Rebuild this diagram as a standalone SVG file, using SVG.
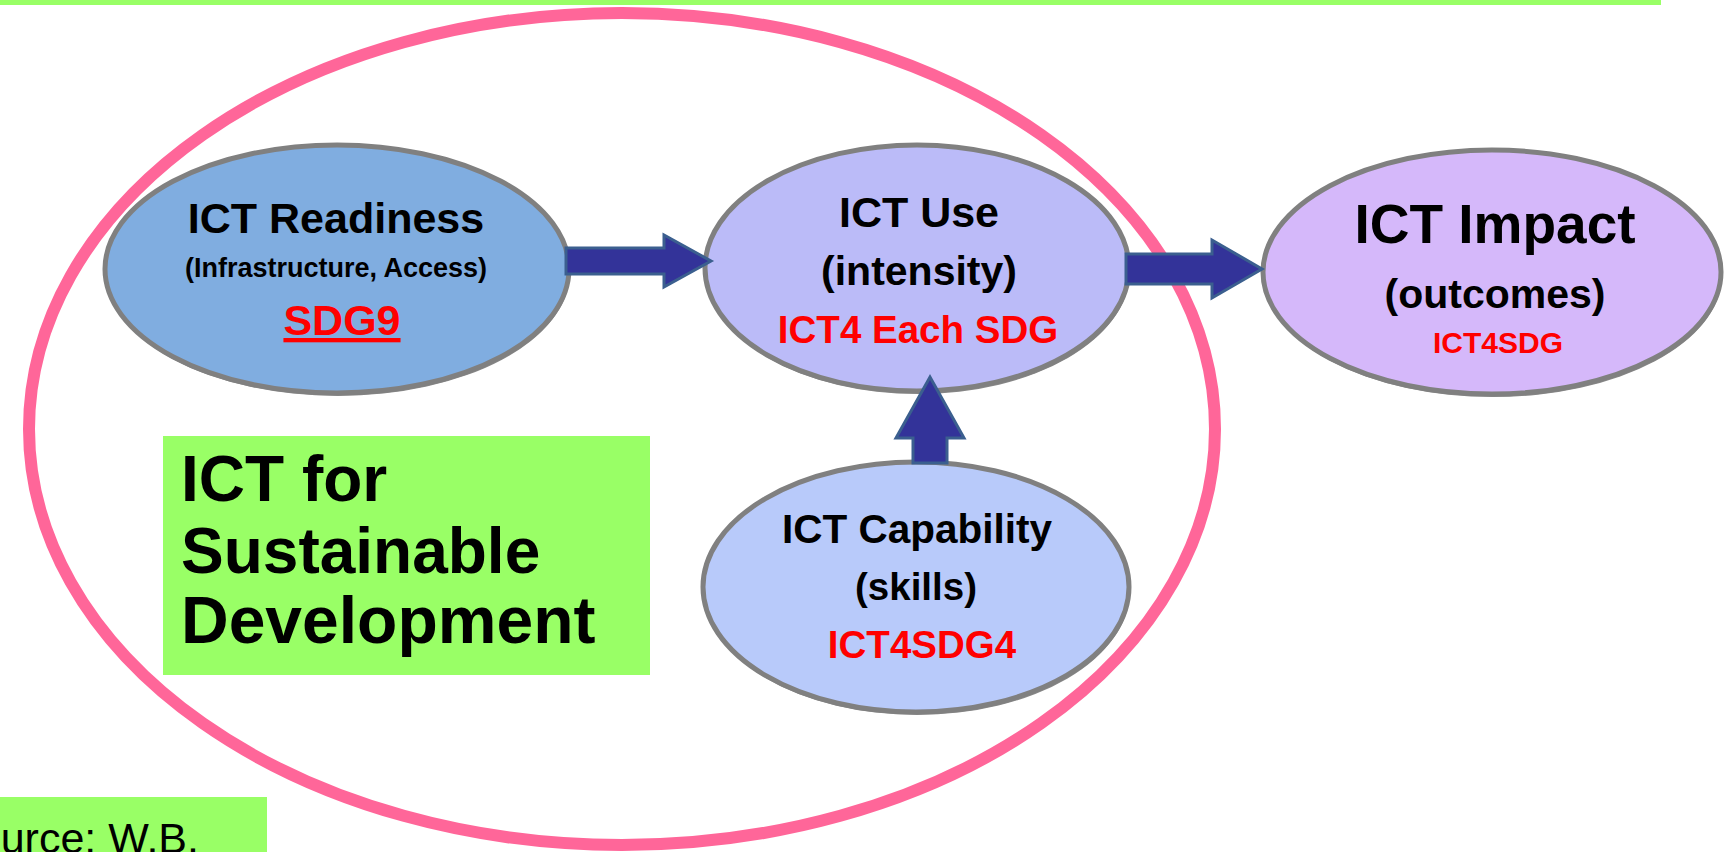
<svg xmlns="http://www.w3.org/2000/svg" width="1724" height="852" viewBox="0 0 1724 852">
<style>
.t{font-family:"Liberation Sans",Arial,sans-serif;font-weight:bold;fill:#000;text-anchor:middle}
.r{fill:#FF0000}
.node{stroke:#808080;stroke-width:5}
.shadow{fill:#8a8a8a}
.arrow{fill:#333399;stroke:#3B5F8F;stroke-width:3;stroke-linejoin:miter}
</style>
<rect x="0" y="0" width="1661" height="5" fill="#99FF66"/>
<ellipse id="scope" cx="622" cy="429" rx="593" ry="416" fill="none" stroke="#FF6699" stroke-width="12"/>
<g id="readiness">
<ellipse class="shadow" cx="338" cy="272" rx="232" ry="124"/>
<ellipse class="node" cx="337" cy="269" rx="232" ry="124" fill="#80ADE0"/>
<text class="t" x="336" y="233" font-size="43">ICT Readiness</text>
<text class="t" x="336" y="277" font-size="27">(Infrastructure, Access)</text>
<text class="t r" x="342" y="335" font-size="43" text-decoration="underline">SDG9</text>
</g>
<g id="use">
<ellipse class="shadow" cx="918" cy="271" rx="212" ry="123"/>
<ellipse class="node" cx="917" cy="268" rx="212" ry="123" fill="#BBBBF8"/>
<text class="t" x="919" y="227" font-size="43">ICT Use</text>
<text class="t" x="919" y="285" font-size="41">(intensity)</text>
<text class="t r" x="918" y="343" font-size="38.5">ICT4 Each SDG</text>
</g>
<g id="impact">
<ellipse class="shadow" cx="1493" cy="275" rx="229" ry="122"/>
<ellipse class="node" cx="1492" cy="272" rx="229" ry="122" fill="#D5B8FA"/>
<text class="t" x="1495" y="243" font-size="55">ICT Impact</text>
<text class="t" x="1495" y="308" font-size="41">(outcomes)</text>
<text class="t r" x="1498" y="353" font-size="30">ICT4SDG</text>
</g>
<g id="capability">
<ellipse class="shadow" cx="917" cy="590" rx="213" ry="125"/>
<ellipse class="node" cx="916" cy="587" rx="213" ry="125" fill="#B8CAFA"/>
<text class="t" x="917" y="543" font-size="40.5">ICT Capability</text>
<text class="t" x="916" y="600" font-size="38.5">(skills)</text>
<text class="t r" x="922" y="658" font-size="38.5">ICT4SDG4</text>
</g>
<g id="ict4sd">
<rect x="163" y="436" width="487" height="239" fill="#99FF66"/>
<text class="t" x="181" y="501" font-size="64" style="text-anchor:start">ICT for</text>
<text class="t" x="181" y="573" font-size="64" style="text-anchor:start">Sustainable</text>
<text class="t" x="181" y="643" font-size="66" style="text-anchor:start">Development</text>
</g>
<g id="source">
<rect x="0" y="797" width="267" height="55" fill="#99FF66"/>
<text x="199" y="853" font-size="43" font-family="Liberation Sans, Arial, sans-serif" text-anchor="end" fill="#000">Source: W.B.</text>
</g>
<g id="connectors">
<polygon class="arrow" points="566,248 664,248 664,235 711,261 664,287 664,274 566,274"/>
<polygon class="arrow" points="1126,254 1212,254 1212,240 1262,269 1212,298 1212,284 1126,284"/>
<polygon class="arrow" points="913,463 913,438 896,438 930,377 964,438 947,438 947,463"/>
</g>
</svg>
